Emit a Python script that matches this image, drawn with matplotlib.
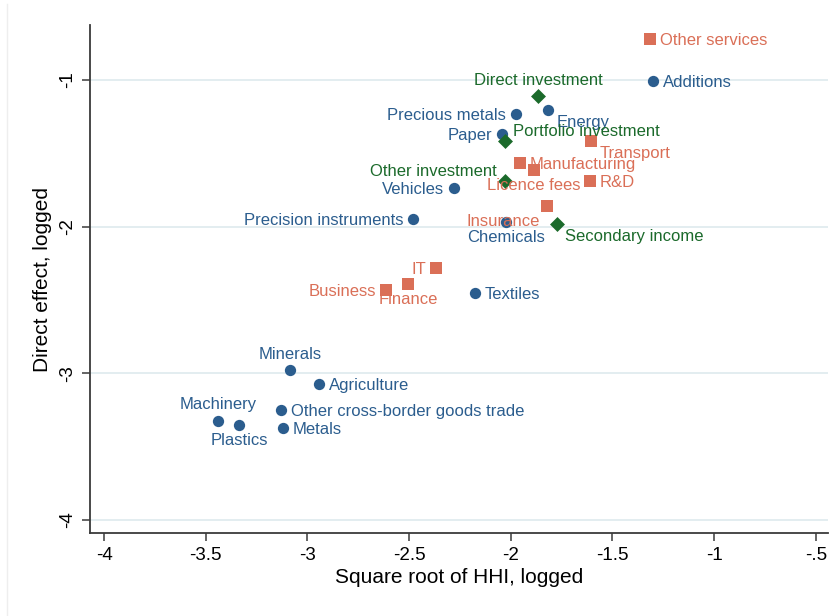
import matplotlib.pyplot as plt
from matplotlib.lines import Line2D

plt.rcParams['font.family'] = ['Liberation Sans', 'DejaVu Sans']

# goods (blue circles)
goods = ['Additions', 'Energy', 'Precious metals', 'Paper', 'Vehicles',
         'Precision instruments', 'Chemicals', 'Textiles', 'Minerals',
         'Agriculture', 'Other cross-border goods trade', 'Metals',
         'Machinery', 'Plastics']
goods_x = [-1.301, -1.817, -1.974, -2.043, -2.279, -2.481, -2.024, -2.176,
           -3.086, -2.943, -3.130, -3.120, -3.440, -3.336]
goods_y = [-1.007, -1.204, -1.232, -1.368, -1.736, -1.948, -1.968, -2.452,
           -2.977, -3.072, -3.250, -3.372, -3.324, -3.352]
goods_pos = [3, 4, 9, 9, 9, 9, 6, 3, 12, 3, 3, 3, 12, 6]

# services (orange squares)
services = ['Other services', 'Transport', 'Manufacturing', 'Licence fees',
            'R&D', 'Insurance', 'IT', 'Finance', 'Business']
services_x = [-1.316, -1.606, -1.955, -1.886, -1.611, -1.822, -2.368,
              -2.505, -2.614]
services_y = [-0.721, -1.416, -1.566, -1.614, -1.688, -1.859, -2.282,
              -2.391, -2.431]
services_pos = [3, 4, 3, 6, 3, 8, 9, 6, 9]

# financial / income (green diamonds)
finance = ['Direct investment', 'Portfolio investment', 'Other investment',
           'Secondary income']
finance_x = [-1.866, -2.029, -2.029, -1.773]
finance_y = [-1.109, -1.416, -1.688, -1.982]
finance_pos = [12, 2, 10, 4]

xticks = [-4, -3.5, -3, -2.5, -2, -1.5, -1, -0.5]
xticklabels = ['-4', '-3.5', '-3', '-2.5', '-2', '-1.5', '-1', '-.5']
yticks = [-1, -2, -3, -4]

blue = '#2b5d8e'
orange = '#da6f57'
green = '#1b6a2b'

# clock position -> (dx, dy in points, ha, va)
clock = {
    3: (7, 0, 'left', 'center_baseline'),
    9: (-7, 0, 'right', 'center_baseline'),
    12: (0, 6, 'center', 'bottom'),
    6: (0, -6, 'center', 'top'),
    4: (6, -8, 'left', 'center_baseline'),
    2: (6, 8, 'left', 'center_baseline'),
    10: (-6, 8, 'right', 'center_baseline'),
    8: (-5, -10, 'right', 'center_baseline'),
}

fig = plt.figure(figsize=(8.4, 6.16), dpi=100)
ax = fig.add_axes([90 / 840, 1 - 533 / 616, 738 / 840, 508 / 616])

for yt in yticks:
    ax.axhline(yt, color='#e0ecef', lw=1.3, zorder=0)


def draw(names, xs, ys, pos, color, marker, size):
    ax.scatter(xs, ys, s=size, marker=marker, color=color, linewidths=0, zorder=3)
    for n, x, y, p in zip(names, xs, ys, pos):
        dx, dy, ha, va = clock[p]
        ax.annotate(n, (x, y), xytext=(dx, dy), textcoords='offset points',
                    ha=ha, va=va, color=color, fontsize=12, zorder=4)


draw(goods, goods_x, goods_y, goods_pos, blue, 'o', 66)
draw(services, services_x, services_y, services_pos, orange, 's', 82)
draw(finance, finance_x, finance_y, finance_pos, green, 'D', 58)

ax.set_xlim(-4.069, -0.44)
ax.set_ylim(-4.089, -0.625)
ax.set_xticks(xticks)
ax.set_xticklabels(xticklabels)
ax.set_yticks(yticks)
ax.set_yticklabels([str(t) for t in yticks], rotation=90, va='center')

for s in ['top', 'right']:
    ax.spines[s].set_visible(False)
for s in ['left', 'bottom']:
    ax.spines[s].set_color('#3a3a3a')
    ax.spines[s].set_linewidth(1.3)
ax.tick_params(axis='both', direction='out', length=6, width=1.1,
               color='#3a3a3a', labelsize=13.5, pad=4)

ax.set_xlabel('Square root of HHI, logged', fontsize=15, labelpad=3)
ax.set_ylabel('Direct effect, logged', fontsize=15, labelpad=5)

# faint outer frame line on the left like the original graph region
fig.add_artist(Line2D([7 / 840, 7 / 840], [0, 1 - 4 / 616], color='#eeeeee', lw=1))

fig.savefig('out.png', dpi=100, facecolor='white')
